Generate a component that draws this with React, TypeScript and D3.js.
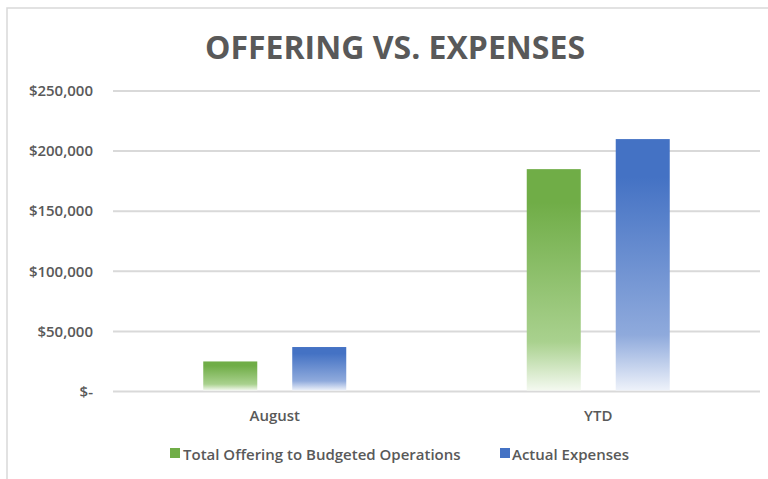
import React from "react";
import * as d3 from "d3";

const categories = ["August", "YTD"];
const seriesNames = ["Total Offering to Budgeted Operations", "Actual Expenses"];
const offering = [25000, 185000];
const expenses = [37000, 210000];
const yTicks = [0, 50000, 100000, 150000, 200000, 250000];
const seriesColors = ["#70AD47", "#4472C4"];
const seriesLight = ["#A9D18E", "#8FAADC"];
const seriesFade = ["#F4F9F0", "#EEF2FA"];

const W = 768;
const H = 479;
const FONT = "'Open Sans', 'Noto Sans', sans-serif";

function fmt(v: number) {
  if (v === 0) return "$-";
  return "$" + d3.format(",")(v);
}

export default function App() {
  const x = d3.scaleBand<string>().domain(categories).range([113, 760]).padding(0);
  const groupW = 143;
  const xInner = d3
    .scaleBand<string>()
    .domain(seriesNames)
    .range([-groupW / 2, groupW / 2])
    .paddingInner(0.393)
    .paddingOuter(0);
  const y = d3.scaleLinear().domain([0, 250000]).range([391.5, 91]);
  const values = [offering, expenses];

  return (
    <svg
      width={W}
      height={H}
      style={{ position: "absolute", left: 0, top: 0, display: "block", background: "#fff" }}
    >
      <defs>
        {seriesNames.map((s, i) => (
          <linearGradient key={s} id={`grad${i}`} x1="0" y1="0" x2="0" y2="1">
            <stop offset="0" stopColor={seriesColors[i]} />
            <stop offset="0.15" stopColor={seriesColors[i]} />
            <stop offset="0.78" stopColor={seriesLight[i]} />
            <stop offset="1" stopColor={seriesFade[i]} />
          </linearGradient>
        ))}
      </defs>
      <rect x={7} y={8} width={800} height={520} fill="#fff" stroke="#D9D9D9" strokeWidth={1.5} />
      <text
        x={395}
        y={59}
        textAnchor="middle"
        fontFamily={FONT}
        fontWeight={700}
        fontSize={32}
        fill="#595959"
      >
        OFFERING VS. EXPENSES
      </text>
      {yTicks.map((t) => (
        <g key={t}>
          <line x1={113} x2={760} y1={y(t)} y2={y(t)} stroke="#D9D9D9" strokeWidth={2} />
          <text
            x={93}
            y={y(t)}
            dy="0.35em"
            textAnchor="end"
            fontFamily={FONT}
            fontWeight={600}
            fontSize={15}
            fill="#595959"
          >
            {fmt(t)}
          </text>
        </g>
      ))}
      {categories.map((c, ci) => (
        <g key={c}>
          {seriesNames.map((s, si) => {
            const v = values[si][ci];
            const bx = (x(c) as number) + x.bandwidth() / 2 + (xInner(s) as number);
            return (
              <rect
                key={s}
                x={bx}
                y={y(v)}
                width={xInner.bandwidth()}
                height={y(0) - y(v) - 1}
                fill={`url(#grad${si})`}
              />
            );
          })}
          <text
            x={(x(c) as number) + x.bandwidth() / 2}
            y={421}
            textAnchor="middle"
            fontFamily={FONT}
            fontWeight={600}
            fontSize={15}
            fill="#595959"
          >
            {c}
          </text>
        </g>
      ))}
      <g>
        <rect x={170} y={448} width={10} height={10} fill={seriesColors[0]} />
        <text x={183} y={459.5} fontFamily={FONT} fontWeight={600} fontSize={15} fill="#595959">
          {seriesNames[0]}
        </text>
        <rect x={500} y={448} width={10} height={10} fill={seriesColors[1]} />
        <text x={512} y={459.5} fontFamily={FONT} fontWeight={600} fontSize={15} fill="#595959">
          {seriesNames[1]}
        </text>
      </g>
    </svg>
  );
}
